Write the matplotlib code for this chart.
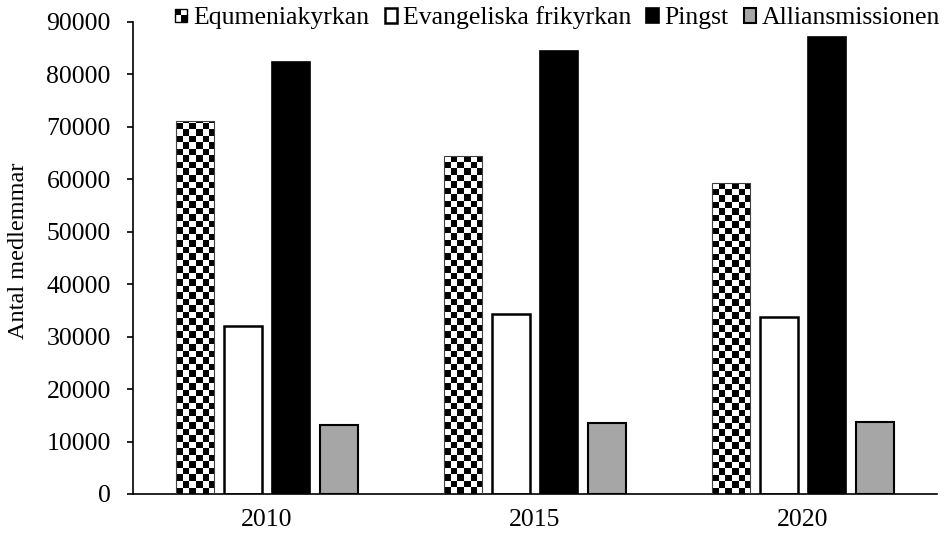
import numpy as np
import matplotlib
matplotlib.use('Agg')
import matplotlib.pyplot as plt
from matplotlib.patches import Rectangle
from matplotlib.legend_handler import HandlerBase

years = ['2010', '2015', '2020']
equmenia = [71200, 64500, 59300]
evangeliska = [32000, 34300, 33800]
pingst = [82400, 84500, 87200]
allians = [13200, 13500, 13700]
names = ['Equmeniakyrkan', 'Evangeliska frikyrkan', 'Pingst', 'Alliansmissionen']

plt.rcParams['font.family'] = ['Liberation Serif', 'DejaVu Serif']

W, H = 951, 535
fig = plt.figure(figsize=(W / 100, H / 100), dpi=100)
left, right, bottom, top = 133, 937, 494, 22
ax = fig.add_axes([left / W, 1 - bottom / H, (right - left) / W, (bottom - top) / H])

x = np.arange(len(years))
width = 0.142
step = 0.179
b_equ = ax.bar(x - 1.5 * step, equmenia, width, color='white', edgecolor='#404040', linewidth=0.8)
b_eva = ax.bar(x - 0.5 * step, evangeliska, width, color='white', edgecolor='black', linewidth=1.8)
b_pin = ax.bar(x + 0.5 * step, pingst, width, color='black', edgecolor='black', linewidth=1.2)
b_all = ax.bar(x + 1.5 * step, allians, width, color='#a6a6a6', edgecolor='black', linewidth=1.5)

ax.set_xlim(-0.5, 2.5)
ax.set_ylim(0, 90000)

# checkerboard fill, cell about 6.5 px
cell = 6.5
dx = cell / (right - left) * 3
dy = cell / (bottom - top) * 90000
for bar in b_equ:
    x0 = bar.get_x()
    w = bar.get_width()
    h = bar.get_height()
    nx = int(np.ceil(w / dx)) + 1
    ny = int(np.ceil(h / dy)) + 1
    checker = (np.add.outer(np.arange(ny), np.arange(nx)) % 2).astype(float)
    im = ax.imshow(checker, cmap='gray', extent=[x0, x0 + nx * dx, 0, ny * dy],
                   origin='lower', aspect='auto', interpolation='nearest', zorder=2)
    im.set_clip_path(bar)
    bar.set_zorder(3)
    bar.set_facecolor('none')

ax.set_xlim(-0.5, 2.5)
ax.set_ylim(0, 90000)

ax.spines['top'].set_visible(False)
ax.spines['right'].set_visible(False)
ax.spines['left'].set_linewidth(1.2)
ax.spines['bottom'].set_linewidth(1.2)
ax.set_xticks(x)
ax.set_xticklabels(years)
ax.tick_params(axis='x', length=0, labelsize=18.5, pad=11)
ax.tick_params(axis='y', length=4, width=1.2, direction='out', labelsize=18.5, pad=12)
ax.set_yticks(np.arange(0, 90001, 10000))
ax.set_ylabel('Antal medlemmar', fontsize=17.5)
ax.yaxis.set_label_coords((29 - left) / (right - left), 0.515)


class CheckerHandler(HandlerBase):
    def create_artists(self, legend, orig_handle, xdescent, ydescent, width, height, fontsize, trans):
        s = min(width, height)
        x0 = -xdescent + (width - s) / 2
        y0 = -ydescent + (height - s) / 2
        h = s / 2
        arts = [Rectangle((x0, y0), s, s, facecolor='white', edgecolor='none', transform=trans),
                Rectangle((x0, y0 + h), h, h, facecolor='black', edgecolor='none', transform=trans),
                Rectangle((x0 + h, y0), h, h, facecolor='black', edgecolor='none', transform=trans),
                Rectangle((x0, y0), s, s, facecolor='none', edgecolor='black', lw=1, transform=trans)]
        return arts


handles = [b_equ[0], b_eva[0], b_pin[0], b_all[0]]
leg = fig.legend(handles, names, loc='center left', bbox_to_anchor=(175 / W, 1 - 18 / H), ncol=4,
                 frameon=False, prop={'family': ['Liberation Serif'], 'size': 18.5},
                 handlelength=0.48, handleheight=0.48,
                 handletextpad=0.22, columnspacing=0.6, borderaxespad=0, borderpad=0,
                 handler_map={b_equ[0]: CheckerHandler()})

fig.savefig('out.png', dpi=100)
